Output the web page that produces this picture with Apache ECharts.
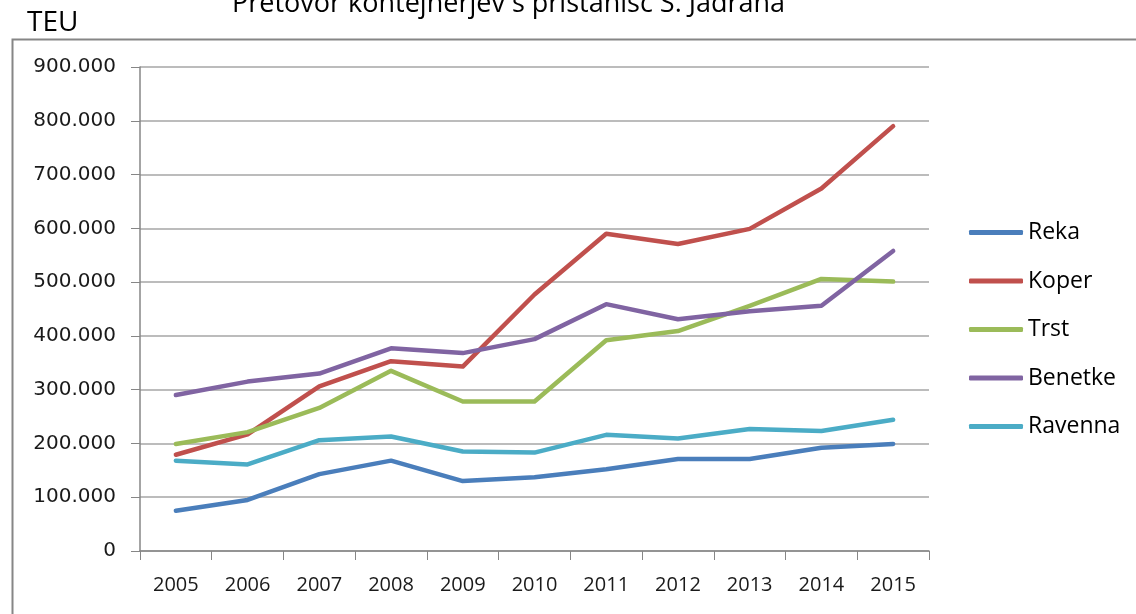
<!DOCTYPE html>
<html>
<head>
<meta charset="utf-8">
<script src="https://cdn.jsdelivr.net/npm/echarts@6/dist/echarts.min.js"></script>
<style>
html,body{margin:0;padding:0;background:#fff;}
#chart{width:1136px;height:614px;}
</style>
</head>
<body>
<div id="chart"></div>
<script>
const years = ['2005','2006','2007','2008','2009','2010','2011','2012','2013','2014','2015'];
const reka    = [75000, 95000, 143000, 168000, 130000, 137000, 152000, 171000, 171000, 192000, 199000];
const koper   = [179000, 217000, 306000, 353000, 343000, 477000, 590000, 571000, 599000, 674000, 790000];
const trst    = [199000, 221000, 266000, 335000, 278000, 278000, 392000, 409000, 456000, 506000, 501000];
const benetke = [290000, 315000, 330000, 377000, 368000, 394000, 459000, 431000, 446000, 456000, 558000];
const ravenna = [168000, 161000, 206000, 213000, 185000, 183000, 216000, 209000, 227000, 223000, 244000];
const seriesNames = ['Reka','Koper','Trst','Benetke','Ravenna'];
const seriesData = [reka, koper, trst, benetke, ravenna];
const colors = ['#4A7EBB','#C0504D','#9BBB59','#8064A2','#4BACC6'];

const FONT = '"Open Sans", "DejaVu Sans", sans-serif';
const YFONT = '"DejaVu Sans", sans-serif';
function fmt(v){
  if (v === 0) return '0';
  return String(v).replace(/\B(?=(\d{3})+(?!\d))/g, '.');
}

const chart = echarts.init(document.getElementById('chart'), null, {renderer:'canvas'});
chart.setOption({
  animation: false,
  backgroundColor: '#ffffff',
  color: colors,
  title: {
    text: 'Pretovor kontejnerjev s pristanišč S. Jadrana',
    left: 227,
    top: -14,
    textStyle: {fontFamily: FONT, fontSize: 27, fontWeight: 'normal', color: '#000'}
  },
  graphic: [
    {type:'rect', left: 10, top: 37, shape:{width: 1200, height: 700}, style:{fill:'none', stroke:'#868686', lineWidth: 2}, silent:true},
    {type:'text', left: 27, top: 9, style:{text:'TEU', font: '28px ' + FONT, fill:'#000'}}
  ],
  legend: {
    orient: 'vertical',
    left: 964,
    top: 215,
    itemWidth: 54,
    itemHeight: 5,
    itemGap: 23.5,
    icon: 'roundRect',
    textStyle: {fontFamily: FONT, fontSize: 23, color: '#000', lineHeight: 25},
    data: seriesNames
  },
  grid: {left: 140, right: 207, top: 67, bottom: 63, containLabel: false},
  xAxis: {
    type: 'category',
    data: years,
    boundaryGap: true,
    axisLine: {lineStyle: {color: '#868686', width: 1.5}},
    axisTick: {show: true, length: 9, alignWithLabel: false, lineStyle: {color: '#868686'}},
    axisLabel: {fontFamily: FONT, fontSize: 20, color: '#1a1a1a', margin: 24, interval: 0}
  },
  yAxis: {
    type: 'value',
    min: 0,
    max: 900000,
    interval: 100000,
    axisLine: {show: true, lineStyle: {color: '#868686', width: 1.5}},
    axisTick: {show: true, length: 9, lineStyle: {color: '#868686'}},
    splitLine: {show: true, lineStyle: {color: '#a6a6a6', width: 1.5}},
    axisLabel: {fontFamily: YFONT, fontSize: 20, color: '#1a1a1a', margin: 24, formatter: fmt}
  },
  series: seriesNames.map((n, i) => ({
    name: n,
    type: 'line',
    data: seriesData[i],
    symbol: 'none',
    lineStyle: {width: 4.5, color: colors[i], cap: 'round', join: 'round'},
    itemStyle: {color: colors[i]}
  }))
});
</script>
</body>
</html>
